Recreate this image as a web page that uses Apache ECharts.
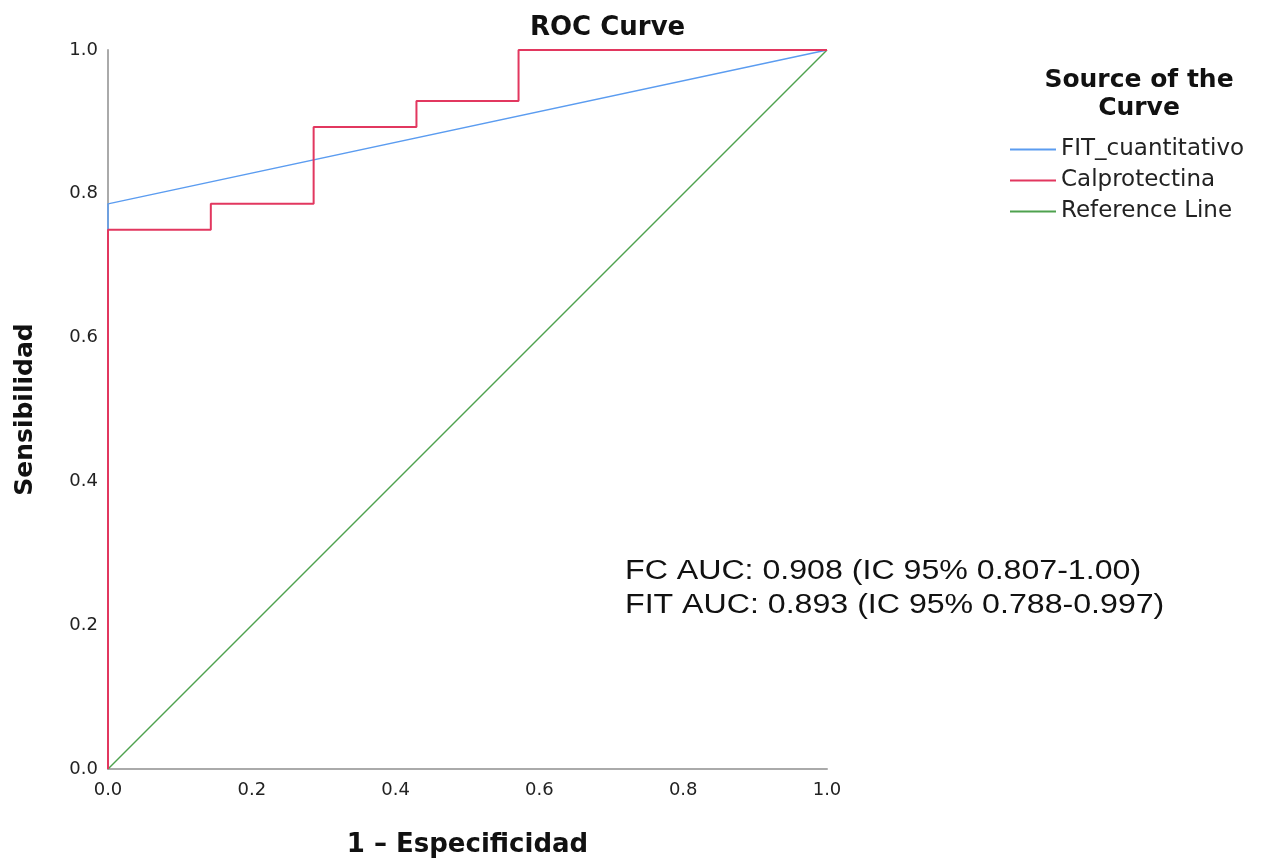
<!DOCTYPE html>
<html>
<head>
<meta charset="utf-8">
<script src="https://cdn.jsdelivr.net/npm/echarts@6/dist/echarts.min.js"></script>
<style>html,body{margin:0;padding:0;background:#fff;}#chart{width:1271px;height:863px;}</style>
</head>
<body>
<div id="chart"></div>
<script>
// Data
const calFPR = [0, 0, 0.143, 0.143, 0.286, 0.286, 0.429, 0.429, 0.571, 0.571, 1.0];
const calTPR = [0, 0.75, 0.75, 0.786, 0.786, 0.893, 0.893, 0.929, 0.929, 1.0, 1.0];
const fitFPR = [0, 0, 1.0];
const fitTPR = [0, 0.786, 1.0];
const refFPR = [0, 1.0];
const refTPR = [0, 1.0];
const tickLabels = ['0.0', '0.2', '0.4', '0.6', '0.8', '1.0'];
const seriesNames = ['FIT_cuantitativo', 'Calprotectina', 'Reference Line'];
const aucLines = ['FC AUC: 0.908 (IC 95% 0.807-1.00)', 'FIT AUC: 0.893 (IC 95% 0.788-0.997)'];

const zip = (a, b) => a.map((v, i) => [v, b[i]]);
const FONT = 'DejaVu Sans';

const chart = echarts.init(document.getElementById('chart'), null, {renderer: 'canvas'});
chart.setOption({
  animation: false,
  backgroundColor: '#ffffff',
  title: [
    {text: 'ROC Curve', left: 525, top: 10, textStyle: {fontFamily: FONT, fontWeight: 'bold', fontSize: 26, color: '#111'}},
    {text: 'Source of the\nCurve', left: 1134, top: 61, textAlign: 'center',
     textStyle: {fontFamily: FONT, fontWeight: 'bold', fontSize: 25, lineHeight: 28, color: '#111'}}
  ],
  legend: {
    orient: 'vertical', left: 1010, top: 138, itemGap: 8, padding: 0,
    itemWidth: 46, itemHeight: 2, icon: 'rect',
    data: seriesNames,
    textStyle: {fontFamily: FONT, fontSize: 23, lineHeight: 22, color: '#222'}
  },
  grid: {left: 108, right: 444, top: 50, bottom: 94, containLabel: false},
  xAxis: {
    type: 'value', min: 0, max: 1, interval: 0.2,
    name: '1 – Especificidad', nameLocation: 'middle', nameGap: 63,
    nameTextStyle: {fontFamily: FONT, fontWeight: 'bold', fontSize: 26, color: '#111'},
    axisLine: {show: true, lineStyle: {color: '#aaaaaa', width: 2}},
    axisTick: {show: false}, splitLine: {show: false},
    axisLabel: {fontFamily: FONT, fontSize: 18, color: '#222', margin: 12, formatter: v => tickLabels[Math.round(v / 0.2)]}
  },
  yAxis: {
    type: 'value', min: 0, max: 1, interval: 0.2,
    name: 'Sensibilidad', nameLocation: 'middle', nameGap: 70,
    nameTextStyle: {fontFamily: FONT, fontWeight: 'bold', fontSize: 25, color: '#111'},
    axisLine: {show: true, lineStyle: {color: '#aaaaaa', width: 2}},
    axisTick: {show: false}, splitLine: {show: false},
    axisLabel: {fontFamily: FONT, fontSize: 18, color: '#222', margin: 10, formatter: v => tickLabels[Math.round(v / 0.2)]}
  },
  series: [
    {name: seriesNames[2], type: 'line', data: zip(refFPR, refTPR), showSymbol: false, z: 2,
     lineStyle: {color: '#4ea24e', width: 1.5}, itemStyle: {color: '#4ea24e'}},
    {name: seriesNames[0], type: 'line', data: zip(fitFPR, fitTPR), showSymbol: false, z: 3,
     lineStyle: {color: '#5b9cf0', width: 1.5}, itemStyle: {color: '#5b9cf0'}},
    {name: seriesNames[1], type: 'line', data: zip(calFPR, calTPR), showSymbol: false, z: 4,
     lineStyle: {color: '#e2375f', width: 2}, itemStyle: {color: '#e2375f'}}
  ],
  graphic: [
    {type: 'text', left: 625, top: 555, scaleX: 1.19,
     style: {text: aucLines.join('\n'), fontFamily: 'Liberation Sans, Arial', fontSize: 27, lineHeight: 34, fill: '#111'}}
  ]
});
</script>
</body>
</html>
